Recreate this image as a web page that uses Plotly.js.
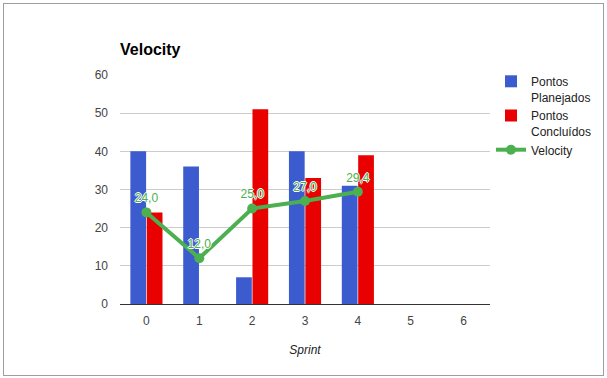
<!DOCTYPE html>
<html>
<head>
<meta charset="utf-8">
<script src="https://cdn.plot.ly/plotly-3.0.1.min.js"></script>
<style>
html,body{margin:0;padding:0;background:#fff;width:607px;height:378px;overflow:hidden;}
#frame{position:absolute;left:3px;top:3px;width:599px;height:371px;border:1px solid #9e9e9e;background:#fff;}
#chart{position:absolute;left:0;top:0;width:599px;height:371px;}
</style>
</head>
<body>
<div id="frame"><div id="chart"></div></div>
<script>
var sprints = ['0','1','2','3','4','5','6'];
var planejados = [40, 36, 7, 40, 31, null, null];
var concluidos = [24, null, 51, 33, 39, null, null];
var velocity = [24.0, 12.0, 25.0, 27.0, 29.4, null, null];
var yTicks = [0, 10, 20, 30, 40, 50, 60];

var font = 'Arial, "Liberation Sans", sans-serif';
var traces = [
  {type:'bar', x:sprints, y:planejados, name:'Pontos<br>Planejados',
   marker:{color:'#3b5bcf'}, hoverinfo:'y'},
  {type:'bar', x:sprints, y:concluidos, name:'Pontos<br>Concluídos',
   marker:{color:'#e90000'}, hoverinfo:'y'},
  {type:'scatter', mode:'lines+markers+text', x:sprints, y:velocity, name:'Velocity',
   line:{color:'#4caf50', width:4}, marker:{color:'#4caf50', size:10},
   texttemplate:'%{y:.1f}', textposition:'top center',
   textfont:{color:'#4caf50', size:12, family:font,
     shadow:'1px 0 0 #fff, -1px 0 0 #fff, 0 1px 0 #fff, 0 -1px 0 #fff'},
   cliponaxis:false, connectgaps:false}
];
var layout = {
  width:599, height:371,
  margin:{l:116, r:113, t:71, b:71, pad:0, autoexpand:false},
  paper_bgcolor:'#fff', plot_bgcolor:'#fff',
  separators:',.',
  font:{family:font, size:12, color:'#444'},
  title:{text:'<b>Velocity</b>', font:{family:font, size:16, color:'#000'},
    xref:'paper', x:0, xanchor:'left', yref:'container', y:1-45/371, yanchor:'middle'},
  barmode:'group', bargap:0.38, bargroupgap:0.04,
  showlegend:true,
  legend:{xref:'container', x:(491-4)/599, xanchor:'left',
    yref:'container', y:1-(67-4)/371, yanchor:'top', valign:'top',
    font:{family:font, size:12, color:'#222'}, tracegroupgap:1, itemwidth:30},
  xaxis:{type:'category', categoryarray:sprints, range:[-0.5,6.5],
    showline:true, linecolor:'#333', linewidth:1, showgrid:false, ticks:'',
    tickfont:{size:12, color:'#444'}, ticklabelstandoff:6,
    title:{text:'<i>Sprint</i>', font:{size:12, color:'#222'}, standoff:18}},
  yaxis:{range:[0,60], tickvals:yTicks, gridcolor:'#cccccc', gridwidth:1,
    zeroline:false, showline:false, ticks:'', tickfont:{size:12, color:'#444'},
    ticklabelstandoff:11},
  hovermode:false
};
Plotly.newPlot('chart', traces, layout, {displayModeBar:false, staticPlot:true});
</script>
</body>
</html>
